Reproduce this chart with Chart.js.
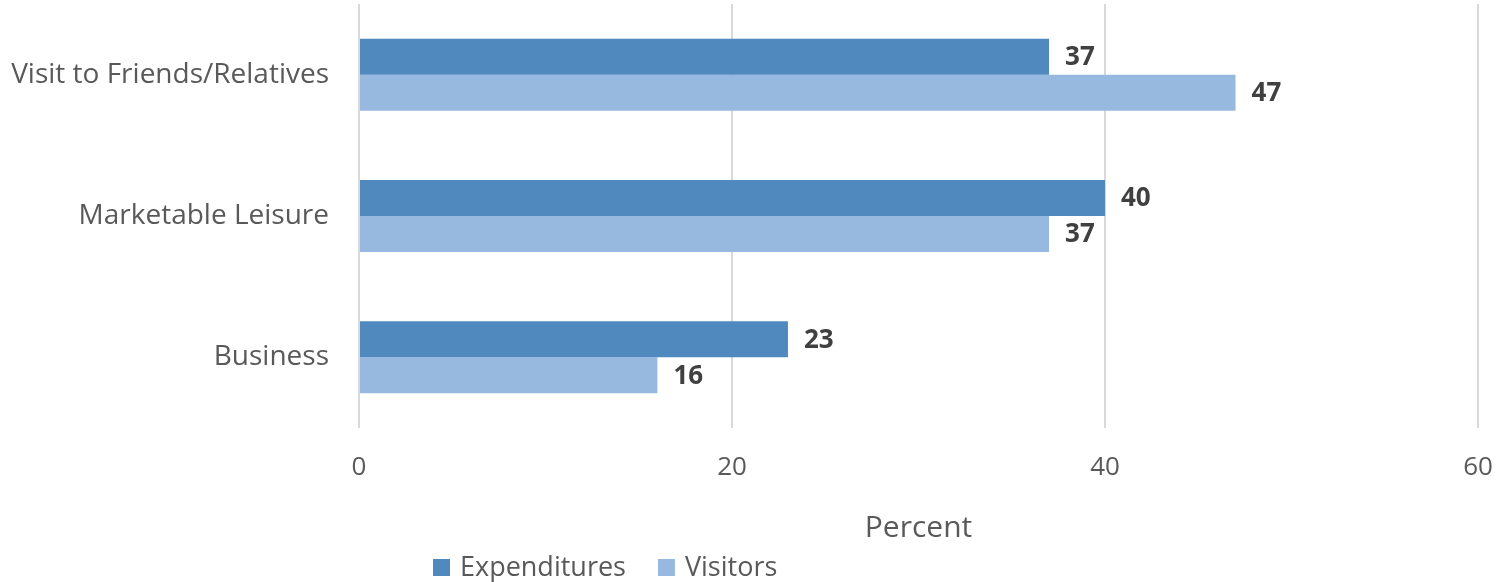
<!DOCTYPE html>
<html>
<head>
<meta charset="utf-8">
<script src="https://cdn.jsdelivr.net/npm/chart.js@4"></script>
<style>
  html, body { margin: 0; padding: 0; background: #fff; }
  #wrap { width: 1496px; height: 582px; position: relative; }
</style>
</head>
<body>
<div id="wrap"><canvas id="c" width="1496" height="582"></canvas></div>
<script>
const categories = ['Visit to Friends/Relatives', 'Marketable Leisure', 'Business'];
const expenditures = [37, 40, 23];
const visitors = [47, 37, 16];
const xTicks = [0, 20, 40, 60];
const seriesNames = ['Expenditures', 'Visitors'];
const seriesColors = ['#4f89bd', '#97b9e0'];

const FONT = "'Open Sans', 'Liberation Sans', sans-serif";
const TEXT = '#595959';

// Value labels at the end of each bar
const valueLabels = {
  id: 'valueLabels',
  afterDatasetsDraw(chart) {
    const ctx = chart.ctx;
    ctx.save();
    ctx.font = 'bold 26px ' + FONT;
    ctx.fillStyle = '#404040';
    ctx.textAlign = 'left';
    ctx.textBaseline = 'middle';
    chart.data.datasets.forEach((ds, i) => {
      chart.getDatasetMeta(i).data.forEach((bar, j) => {
        ctx.fillText(String(ds.data[j]), bar.x + 16, bar.y + 1);
      });
    });
    ctx.restore();
  }
};

// Legend row under the axis title
const bottomLegend = {
  id: 'bottomLegend',
  afterDraw(chart) {
    const ctx = chart.ctx;
    ctx.save();
    ctx.font = '27px ' + FONT;
    ctx.textBaseline = 'middle';
    const y = 567;
    let x = 433;
    chart.data.datasets.forEach((ds, i) => {
      ctx.fillStyle = ds.backgroundColor;
      ctx.fillRect(x, y - 8, 17, 17);
      ctx.fillStyle = TEXT;
      ctx.fillText(ds.label, x + 27, y + 1);
      x += 27 + ctx.measureText(ds.label).width + 32;
    });
    ctx.restore();
  }
};

new Chart(document.getElementById('c'), {
  type: 'bar',
  data: {
    labels: categories,
    datasets: [
      { label: seriesNames[0], data: expenditures, backgroundColor: seriesColors[0] },
      { label: seriesNames[1], data: visitors, backgroundColor: seriesColors[1] }
    ]
  },
  options: {
    indexAxis: 'y',
    responsive: false,
    animation: false,
    events: [],
    layout: { padding: { top: 4, right: 0, left: 0, bottom: 0 } },
    datasets: { bar: { categoryPercentage: 0.51, barPercentage: 1.0 } },
    plugins: { legend: { display: false }, tooltip: { enabled: false } },
    scales: {
      x: {
        min: 0, max: 60,
        afterBuildTicks(scale) { scale.ticks = xTicks.map(v => ({ value: v })); },
        afterFit(scale) {
          scale.height = 154;
          scale.paddingRight = 18;
          scale.paddingLeft = 0;
        },
        grid: { color: '#d9d9d9', lineWidth: 2, drawTicks: false },
        border: { display: false },
        ticks: { color: TEXT, font: { family: FONT, size: 26 }, padding: 24 },
        title: {
          display: true, text: 'Percent', color: TEXT,
          font: { family: FONT, size: 30 }, padding: { top: 10, bottom: 36 }
        }
      },
      y: {
        afterFit(scale) {
          scale.width = 359;
          scale.paddingTop = 0;
          scale.paddingBottom = 0;
        },
        grid: { display: false, drawTicks: false },
        border: { display: false },
        ticks: { color: TEXT, font: { family: FONT, size: 28 }, padding: 30 }
      }
    }
  },
  plugins: [valueLabels, bottomLegend]
});
</script>
</body>
</html>
